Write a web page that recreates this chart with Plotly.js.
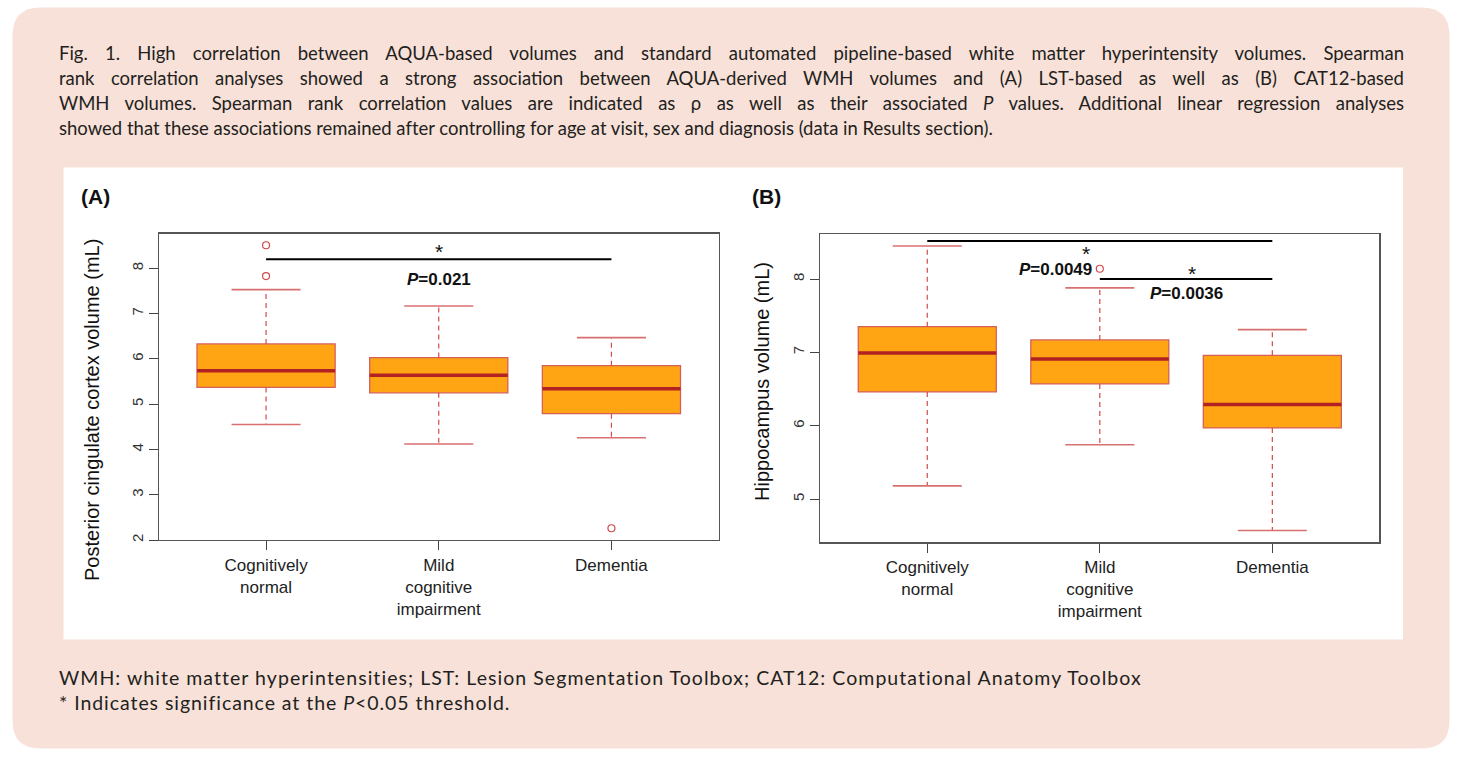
<!DOCTYPE html>
<html><head><meta charset="utf-8">
<script src="https://cdn.plot.ly/plotly-3.0.1.min.js"></script>
<style>html,body{margin:0;padding:0;background:#fff;}#chart{width:1458px;height:759px;}</style>
</head><body><div id="chart"></div>
<script>
// ---------- data ----------
const categories = ['Cognitively<br>normal', 'Mild<br>cognitive<br>impairment', 'Dementia'];
const catPos = [1, 2, 3];

// Panel A: posterior cingulate cortex volume (mL)
const aLower  = [4.55, 4.12, 4.26];
const aQ1     = [5.37, 5.25, 4.79];
const aMedian = [5.74, 5.64, 5.34];
const aQ3     = [6.33, 6.03, 5.85];
const aUpper  = [7.53, 7.17, 6.47];
const aOutX   = [1, 1, 3];
const aOutY   = [8.51, 7.83, 2.26];
const aTicks  = [2, 3, 4, 5, 6, 7, 8];

// Panel B: hippocampus volume (mL)
const bLower  = [5.18, 5.74, 4.57];
const bQ1     = [6.46, 6.57, 5.97];
const bMedian = [6.99, 6.91, 6.29];
const bQ3     = [7.35, 7.17, 6.96];
const bUpper  = [8.45, 7.88, 7.31];
const bOutX   = [2];
const bOutY   = [8.14];
const bTicks  = [5, 6, 7, 8];

// significance comparisons
const aSigFrom = [1], aSigTo = [3], aSigY = [8.20], aSigP = ['0.021'];
const bSigFrom = [1, 2], bSigTo = [3, 3], bSigY = [8.52, 8.00], bSigP = ['0.0049', '0.0036'];

const captionLines = [
  'Fig. 1. High correlation between AQUA-based volumes and standard automated pipeline-based white matter hyperintensity volumes. Spearman',
  'rank correlation analyses showed a strong association between AQUA-derived WMH volumes and (A) LST-based as well as (B) CAT12-based',
  'WMH volumes. Spearman rank correlation values are indicated as \u03c1 as well as their associated <i>P</i> values. Additional linear regression analyses',
  'showed that these associations remained after controlling for age at visit, sex and diagnosis (data in Results section).'
];
const footLines = [
  'WMH: white matter hyperintensities; LST: Lesion Segmentation Toolbox; CAT12: Computational Anatomy Toolbox',
  '* Indicates significance at the <i>P</i>&lt;0.05 threshold.'
];

// ---------- styling ----------
const W = 1458, H = 759;
const px = v => v / W, py = v => 1 - v / H;
const FILL = '#FFA514', BORDER = '#D5605A', MED = '#B32222', WHISK = '#D24A4A', CAP = '#D97070', OUT = '#D04848';
const chartFont = 'Liberation Sans, Arial, sans-serif';
const capFont = 'Lato, Open Sans, sans-serif';
// text-block geometry (pixels) per line
const capFit = [{w:1345, mode:'word'}, {w:1345, mode:'word'}, {w:1345, mode:'word'}, {w:934, mode:'letter'}];
const footFit = [{w:1083, mode:'letter'}, {w:451, mode:'letter'}];

function panelTraces(q1, med, q3, lo, hi, ox, oy, xa, ya) {
  const t = [];
  t.push({type:'box', x:catPos, q1:q1, median:med, q3:q3, lowerfence:q1, upperfence:q3,
    width:0.8, fillcolor:FILL, line:{color:BORDER, width:1.3}, boxpoints:false,
    xaxis:xa, yaxis:ya, hoverinfo:'skip', showlegend:false});
  const wx = [], wy = [], cx = [], cy = [], mx = [], my = [];
  catPos.forEach((p, i) => {
    wx.push(p, p, null, p, p, null); wy.push(q3[i], hi[i], null, q1[i], lo[i], null);
    cx.push(p - 0.2, p + 0.2, null, p - 0.2, p + 0.2, null); cy.push(hi[i], hi[i], null, lo[i], lo[i], null);
    mx.push(p - 0.4, p + 0.4, null); my.push(med[i], med[i], null);
  });
  t.push({type:'scatter', mode:'lines', x:wx, y:wy, line:{color:WHISK, width:1.2, dash:'5px,4px'}, xaxis:xa, yaxis:ya, hoverinfo:'skip', showlegend:false});
  t.push({type:'scatter', mode:'lines', x:cx, y:cy, line:{color:CAP, width:1.6}, xaxis:xa, yaxis:ya, hoverinfo:'skip', showlegend:false});
  t.push({type:'scatter', mode:'lines', x:mx, y:my, line:{color:MED, width:3.5}, xaxis:xa, yaxis:ya, hoverinfo:'skip', showlegend:false});
  t.push({type:'scatter', mode:'markers', x:ox, y:oy, marker:{symbol:'circle-open', size:7, color:OUT, line:{width:1.2, color:OUT}}, xaxis:xa, yaxis:ya, hoverinfo:'skip', showlegend:false});
  return t;
}

const data = [].concat(
  panelTraces(aQ1, aMedian, aQ3, aLower, aUpper, aOutX, aOutY, 'x', 'y'),
  panelTraces(bQ1, bMedian, bQ3, bLower, bUpper, bOutX, bOutY, 'x2', 'y2')
);

function xAxis(domain) {
  return {domain:domain, range:[0.38, 3.62], tickvals:catPos, ticktext:categories, ticks:'outside', ticklen:9,
    tickcolor:'#444', tickwidth:1, showline:true, mirror:true, linecolor:'#555', linewidth:1.2,
    showgrid:false, zeroline:false, tickfont:{family:chartFont, size:17, color:'#222'}, fixedrange:true};
}
function yAxis(domain, range, ticks, anchor) {
  return {domain:domain, range:range, tickvals:ticks, ticks:'outside', ticklen:9, tickangle:-90,
    tickcolor:'#444', tickwidth:1, showline:true, mirror:true, linecolor:'#555', linewidth:1.2,
    showgrid:false, zeroline:false, tickfont:{family:chartFont, size:15, color:'#333'}, fixedrange:true, anchor:anchor};
}

const shapes = [];
// peach rounded background
(function(){
  const x0 = 12.5, x1 = 1449.5, y0 = 7.5, y1 = 748.5, r = 28;
  const P = (x, y) => px(x) + ',' + py(y);
  const path = 'M' + P(x0 + r, y0) + ' L' + P(x1 - r, y0) + ' Q' + P(x1, y0) + ' ' + P(x1, y0 + r) +
    ' L' + P(x1, y1 - r) + ' Q' + P(x1, y1) + ' ' + P(x1 - r, y1) + ' L' + P(x0 + r, y1) +
    ' Q' + P(x0, y1) + ' ' + P(x0, y1 - r) + ' L' + P(x0, y0 + r) + ' Q' + P(x0, y0) + ' ' + P(x0 + r, y0) + ' Z';
  shapes.push({type:'path', xref:'paper', yref:'paper', path:path, fillcolor:'#F8E1D8', line:{width:0}, layer:'below'});
})();
shapes.push({type:'rect', xref:'paper', yref:'paper', x0:px(63.5), x1:px(1403), y0:py(639.5), y1:py(167.5), fillcolor:'#FFFFFF', line:{width:0}, layer:'below'});

const annotations = [];
captionLines.forEach((t, i) => annotations.push({xref:'paper', yref:'paper', x:px(57), y:py(52.5 + i * 25.3), xanchor:'left', yanchor:'middle', align:'left',
  text:t, showarrow:false, font:{family:capFont, size:18.5, color:'#231F20'}}));
footLines.forEach((t, i) => annotations.push({xref:'paper', yref:'paper', x:px(57), y:py(677 + i * 25.5), xanchor:'left', yanchor:'middle', align:'left',
  text:t, showarrow:false, font:{family:capFont, size:19.5, color:'#231F20'}}));
const fits = capFit.concat(footFit);

// panel labels and y-axis titles
annotations.push({xref:'paper', yref:'paper', x:px(95), y:py(196), xanchor:'center', yanchor:'middle', text:'<b>(A)</b>', showarrow:false, font:{family:chartFont, size:21, color:'#111'}});
annotations.push({xref:'paper', yref:'paper', x:px(767), y:py(196), xanchor:'center', yanchor:'middle', text:'<b>(B)</b>', showarrow:false, font:{family:chartFont, size:21, color:'#111'}});
annotations.push({xref:'paper', yref:'paper', x:px(92), y:py(410), xanchor:'center', yanchor:'middle', textangle:-90, text:'Posterior cingulate cortex volume (mL)', showarrow:false, font:{family:chartFont, size:20, color:'#111'}});
annotations.push({xref:'paper', yref:'paper', x:px(762), y:py(381), xanchor:'center', yanchor:'middle', textangle:-90, text:'Hippocampus volume (mL)', showarrow:false, font:{family:chartFont, size:20, color:'#111'}});

// significance bars + labels
function addSig(from, to, ys, ps, xa, ya, starOff, pOff) {
  from.forEach((f, i) => {
    shapes.push({type:'line', xref:xa, yref:ya, x0:f, x1:to[i], y0:ys[i], y1:ys[i], line:{color:'#000', width:2}});
    const mid = (f + to[i]) / 2;
    const s = starOff[i], p = pOff[i];
    annotations.push({xref:xa, yref:ya, x:s.x !== undefined ? s.x : mid, y:ys[i], xshift:s.dx, yshift:s.dy, xanchor:'center', yanchor:'middle', text:'*', showarrow:false,
      font:{family:chartFont, size:21, color:'#111'}});
    annotations.push({xref:xa, yref:ya, x:p.x !== undefined ? p.x : mid, y:ys[i], xshift:p.dx, yshift:p.dy, xanchor:p.anchor || 'center', yanchor:'middle',
      text:'<b><i>P</i>=' + ps[i] + '</b>', showarrow:false, font:{family:chartFont, size:17, color:'#111'}});
  });
}
addSig(aSigFrom, aSigTo, aSigY, aSigP, 'x', 'y', [{dx:0, dy:8}], [{dx:0, dy:-20}]);
addSig(bSigFrom, bSigTo, bSigY, bSigP, 'x2', 'y2',
  [{x:2, dx:-14, dy:-13}, {dx:6, dy:6}],
  [{x:2, dx:-6, dy:-29, anchor:'right'}, {dx:0, dy:-14}]);

const layout = {
  width:W, height:H, margin:{l:0, r:0, t:0, b:0}, paper_bgcolor:'#FFFFFF', plot_bgcolor:'rgba(0,0,0,0)',
  showlegend:false, font:{family:chartFont},
  xaxis:Object.assign(xAxis([px(159), px(718.5)]), {anchor:'y'}),
  yaxis:yAxis([py(540), py(233.5)], [2.0, 8.77], aTicks, 'x'),
  xaxis2:Object.assign(xAxis([px(820.3), px(1379.3)]), {anchor:'y2'}),
  yaxis2:yAxis([py(542.3), py(234.3)], [4.41, 8.61], bTicks, 'x2'),
  shapes:shapes, annotations:annotations
};

Plotly.newPlot('chart', data, layout, {staticPlot:true, displayModeBar:false}).then(gd => {
  // fit caption / footnote lines to the widths of the original text block
  gd.querySelectorAll('g.annotation').forEach(g => {
    const idx = +g.getAttribute('data-index');
    if (idx >= fits.length) return;
    const t = g.querySelector('text.annotation-text');
    if (!t) return;
    const len = t.getComputedTextLength();
    const f = fits[idx];
    if (f.mode === 'word') {
      const spaces = (t.textContent.match(/ /g) || []).length;
      if (spaces > 0) t.style.wordSpacing = ((f.w - len) / spaces).toFixed(2) + 'px';
    } else {
      const n = t.textContent.length;
      if (n > 0) t.style.letterSpacing = ((f.w - len) / n).toFixed(3) + 'px';
    }
  });
});
</script>
</body></html>
